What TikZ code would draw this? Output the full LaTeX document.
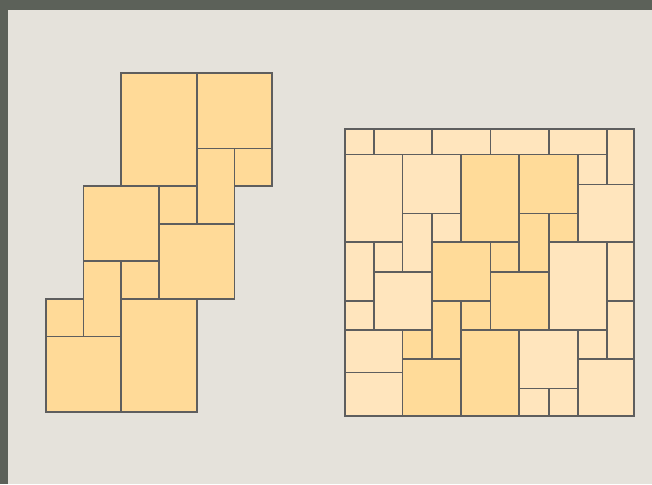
\documentclass[tikz,border=0pt]{standalone}
\definecolor{bg}{HTML}{E5E2DB}
\definecolor{band}{HTML}{5C6159}
\definecolor{tileA}{HTML}{FFDA98}
\definecolor{tileL}{HTML}{FFE5BD}
\definecolor{tileD}{HTML}{FFDB99}
\definecolor{edge}{HTML}{5E5E5E}
\tikzset{
  tile/.style={fill=tileA,draw=edge,line width=1.7pt,line join=miter},
  ltile/.style={fill=tileL,draw=edge,line width=1.7pt,line join=miter},
  dtile/.style={fill=tileD,draw=edge,line width=1.7pt,line join=miter}
}
\def\qxa{344.7}\def\qxb{373.8}\def\qxc{402.5}\def\qxd{432.3}\def\qxe{460.8}
\def\qxf{490.5}\def\qxg{519.2}\def\qxh{548.7}\def\qxi{578.2}\def\qxj{606.7}\def\qxk{633.7}
\def\qya{128.7}\def\qyb{154.6}\def\qyc{184.6}\def\qyd{213.4}\def\qye{242.3}
\def\qyf{272.3}\def\qyg{301}\def\qyh{330}\def\qyi{359}\def\qyz{372.6}\def\qyj{388.5}\def\qyk{415.7}
\begin{document}
\begin{tikzpicture}[x=1pt,y=-1pt]
\fill[bg] (0,0) rectangle (652,484);
\fill[band] (0,0) rectangle (652,10);
\fill[band] (0,0) rectangle (8,484);
\useasboundingbox (0,0) rectangle (652,484);
% left figure
\begin{scope}[shift={(45.7pt,-73.3pt)},x=37.77pt,y=-37.6pt]
\draw[tile] (2,0) rectangle (4,3);
\draw[tile] (4,0) rectangle (6,2);
\draw[tile] (4,2) rectangle (5,4);
\draw[tile] (5,2) rectangle (6,3);
\draw[tile] (1,3) rectangle (3,5);
\draw[tile] (3,3) rectangle (4,4);
\draw[tile] (3,4) rectangle (5,6);
\draw[tile] (1,5) rectangle (2,7);
\draw[tile] (2,5) rectangle (3,6);
\draw[tile] (0,6) rectangle (1,7);
\draw[tile] (0,7) rectangle (2,9);
\draw[tile] (2,6) rectangle (4,9);
\end{scope}
% right figure
\draw[ltile] (\qxa,\qya) rectangle (\qxb,\qyb);
\draw[ltile] (\qxb,\qya) rectangle (\qxd,\qyb);
\draw[ltile] (\qxd,\qya) rectangle (\qxf,\qyb);
\draw[ltile] (\qxf,\qya) rectangle (\qxh,\qyb);
\draw[ltile] (\qxh,\qya) rectangle (\qxj,\qyb);
\draw[ltile] (\qxj,\qya) rectangle (\qxk,\qyc);
\draw[ltile] (\qxa,\qyb) rectangle (\qxc,\qye);
\draw[ltile] (\qxc,\qyb) rectangle (\qxe,\qyd);
\draw[dtile] (\qxe,\qyb) rectangle (\qxg,\qye);
\draw[dtile] (\qxg,\qyb) rectangle (\qxi,\qyd);
\draw[ltile] (\qxi,\qyb) rectangle (\qxj,\qyc);
\draw[ltile] (\qxi,\qyc) rectangle (\qxk,\qye);
\draw[ltile] (\qxc,\qyd) rectangle (\qxd,\qyf);
\draw[ltile] (\qxd,\qyd) rectangle (\qxe,\qye);
\draw[dtile] (\qxg,\qyd) rectangle (\qxh,\qyf);
\draw[dtile] (\qxh,\qyd) rectangle (\qxi,\qye);
\draw[ltile] (\qxa,\qye) rectangle (\qxb,\qyg);
\draw[ltile] (\qxb,\qye) rectangle (\qxc,\qyf);
\draw[dtile] (\qxd,\qye) rectangle (\qxf,\qyg);
\draw[dtile] (\qxf,\qye) rectangle (\qxg,\qyf);
\draw[ltile] (\qxh,\qye) rectangle (\qxj,\qyh);
\draw[ltile] (\qxj,\qye) rectangle (\qxk,\qyg);
\draw[ltile] (\qxb,\qyf) rectangle (\qxd,\qyh);
\draw[dtile] (\qxf,\qyf) rectangle (\qxh,\qyh);
\draw[ltile] (\qxa,\qyg) rectangle (\qxb,\qyh);
\draw[dtile] (\qxd,\qyg) rectangle (\qxe,\qyi);
\draw[dtile] (\qxe,\qyg) rectangle (\qxf,\qyh);
\draw[ltile] (\qxj,\qyg) rectangle (\qxk,\qyi);
\draw[ltile] (\qxa,\qyh) rectangle (\qxc,\qyz);
\draw[ltile] (\qxa,\qyz) rectangle (\qxc,\qyk);
\draw[dtile] (\qxc,\qyh) rectangle (\qxd,\qyi);
\draw[dtile] (\qxc,\qyi) rectangle (\qxe,\qyk);
\draw[dtile] (\qxe,\qyh) rectangle (\qxg,\qyk);
\draw[ltile] (\qxg,\qyh) rectangle (\qxi,\qyj);
\draw[ltile] (\qxi,\qyh) rectangle (\qxj,\qyi);
\draw[ltile] (\qxi,\qyi) rectangle (\qxk,\qyk);
\draw[ltile] (\qxg,\qyj) rectangle (\qxh,\qyk);
\draw[ltile] (\qxh,\qyj) rectangle (\qxi,\qyk);
\end{tikzpicture}
\end{document}
